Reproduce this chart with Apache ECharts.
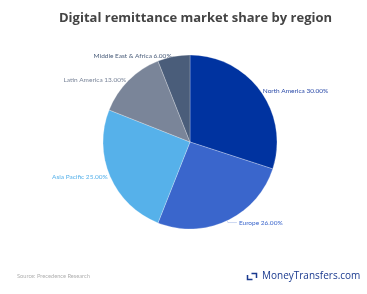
<!DOCTYPE html>
<html><head><meta charset="utf-8">
<script src="https://cdn.jsdelivr.net/npm/echarts@6/dist/echarts.min.js"></script>
<style>html,body{margin:0;padding:0;background:#fff}#c{width:367px;height:294px}</style>
</head><body><div id="c"></div>
<script>
const categories = ["North America", "Europe", "Asia Pacific", "Latin America", "Middle East & Africa"];
const shares = [30, 26, 25, 13, 6];
const colors = ["#0033a0", "#3a66cc", "#56b1ea", "#7a8599", "#4a5d7a"];
const labelColors = ["#2a4aa8", "#3a66cc", "#56b1ea", "#7a8599", "#4a5d7a"];
const titleText = "Digital remittance market share by region";
const sourceText = "Source: Precedence Research";
const brandText = "MoneyTransfers.com";

const lineLen = [[0.5, 0], [2, 9], [0.5, 0], [0.5, 0], [0.5, 0]];

const chart = echarts.init(document.getElementById('c'), null, {renderer: 'canvas'});
chart.setOption({
  backgroundColor: '#fff',
  animation: false,
  title: {
    text: titleText, left: 54, top: 7,
    textStyle: {fontFamily: 'Open Sans', fontWeight: 'bold', fontSize: 13, color: '#444'}
  },
  series: [{
    type: 'pie',
    center: [190, 142],
    radius: 87,
    startAngle: 90,
    clockwise: true,
    avoidLabelOverlap: false,
    data: categories.map((n, i) => ({name: n, value: shares[i], itemStyle: {color: colors[i]},
      label: {color: labelColors[i]},
      labelLine: {length: lineLen[i][0], length2: lineLen[i][1]}})),
    itemStyle: {borderColor: 'rgba(255,255,255,0.5)', borderWidth: 0.5},
    label: {
      show: true,
      distanceToLabelLine: 2,
      formatter: p => p.name + ' ' + p.value.toFixed(2) + '%',
      fontFamily: 'Lato', fontSize: 6.5
    },
    labelLine: {show: true, lineStyle: {width: 0.5, opacity: 0.5}}
  }],
  graphic: [
    {type: 'text', left: 17, top: 273, style: {text: sourceText, font: '5.7px Lato', fill: '#b0b0b0'}},
    {type: 'polyline', shape: {points: [[247.5, 275], [247.5, 279.5], [252.5, 279.5]]}, style: {stroke: '#1a3a8f', lineWidth: 1.5, fill: null}},
    {type: 'polyline', shape: {points: [[251.5, 273.5], [256.5, 273.5], [256.5, 278]]}, style: {stroke: '#1a3a8f', lineWidth: 1.5, fill: null}},
    {type: 'text', left: 262, top: 271, style: {text: brandText, font: '10px "Open Sans"', fill: '#1a3a8f'}}
  ]
});
</script></body></html>
